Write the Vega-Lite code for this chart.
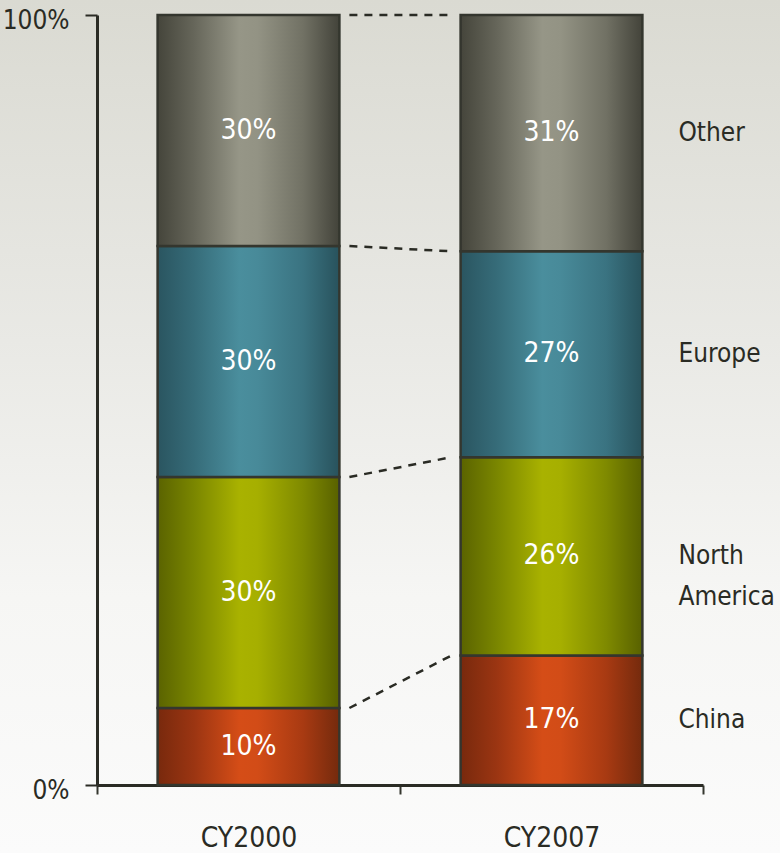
{
  "$schema": "https://vega.github.io/schema/vega-lite/v6.json",
  "width": 780,
  "height": 853,
  "padding": 0,
  "autosize": {"type": "none"},
  "background": "#fafaf9",
  "config": {
    "view": {
      "stroke": null,
      "fill": {"gradient": "linear", "x1": 0, "y1": 0, "x2": 0, "y2": 1,
        "stops": [{"offset": 0, "color": "#dadad2"}, {"offset": 0.4, "color": "#e9e9e5"}, {"offset": 0.7, "color": "#f6f6f4"}, {"offset": 1, "color": "#fbfbfb"}]}
    },
    "font": "Liberation Sans Narrow, DejaVu Sans Condensed, sans-serif"
  },
  "data": {
    "values": [
      {"year": "CY2000", "region": "China", "order": 1, "value": 10},
      {"year": "CY2000", "region": "North America", "order": 2, "value": 30},
      {"year": "CY2000", "region": "Europe", "order": 3, "value": 30},
      {"year": "CY2000", "region": "Other", "order": 4, "value": 30},
      {"year": "CY2007", "region": "China", "order": 1, "value": 17},
      {"year": "CY2007", "region": "North America", "order": 2, "value": 26},
      {"year": "CY2007", "region": "Europe", "order": 3, "value": 27},
      {"year": "CY2007", "region": "Other", "order": 4, "value": 31}
    ]
  },
  "transform": [
    {"stack": "value", "groupby": ["year"], "offset": "normalize", "sort": [{"field": "order", "order": "ascending"}], "as": ["y0", "y1"]},
    {"calculate": "(datum.y0 + datum.y1) / 2", "as": "mid"},
    {"calculate": "datum.value + '%'", "as": "label"}
  ],
  "encoding": {
    "x": {
      "field": "year", "type": "nominal", "title": null,
      "scale": {"type": "band", "domain": ["CY2000", "CY2007"], "range": [97, 703], "paddingInner": 0, "paddingOuter": 0},
      "axis": {"orient": "bottom", "offset": -68, "labelAngle": 0, "tickBand": "extent", "tickSize": 9, "tickWidth": 2, "tickColor": "#34362e", "domainWidth": 3, "domainColor": "#2a2b24", "labelFontSize": 28, "labelColor": "#2a2b24", "labelPadding": 44, "labelBaseline": "middle", "grid": false}
    },
    "y": {
      "field": "y1", "type": "quantitative", "title": null,
      "scale": {"domain": [0, 1], "range": [785, 15], "nice": false, "zero": false},
      "axis": {"orient": "left", "offset": -97, "values": [0, 1], "format": ".0%", "tickSize": 12, "tickWidth": 2, "tickColor": "#2a2b24", "domainWidth": 3, "domainColor": "#2a2b24", "labelFontSize": 26, "labelColor": "#2a2b24", "labelPadding": 16, "labelOffset": 5, "labelBound": false, "labelFlush": false, "grid": false}
    }
  },
  "layer": [
    {
      "transform": [{"filter": "datum.region == 'China'"}],
      "mark": {"type": "bar", "width": {"band": 0.6}, "stroke": "#34362e", "strokeWidth": 2.5,
        "fill": {"gradient": "linear", "x1": 0, "y1": 0, "x2": 1, "y2": 0, "stops": [{"offset": 0, "color": "#78290d"}, {"offset": 0.2, "color": "#9b3512"}, {"offset": 0.45, "color": "#d54d17"}, {"offset": 0.55, "color": "#d24c17"}, {"offset": 0.8, "color": "#a83a12"}, {"offset": 1, "color": "#742a0d"}]}},
      "encoding": {"y2": {"field": "y0"}}
    },
    {
      "transform": [{"filter": "datum.region == 'North America'"}],
      "mark": {"type": "bar", "width": {"band": 0.6}, "stroke": "#34362e", "strokeWidth": 2.5,
        "fill": {"gradient": "linear", "x1": 0, "y1": 0, "x2": 1, "y2": 0, "stops": [{"offset": 0, "color": "#5a6300"}, {"offset": 0.2, "color": "#7a8600"}, {"offset": 0.45, "color": "#a9b200"}, {"offset": 0.55, "color": "#a6af00"}, {"offset": 0.8, "color": "#7f8a00"}, {"offset": 1, "color": "#586100"}]}},
      "encoding": {"y2": {"field": "y0"}}
    },
    {
      "transform": [{"filter": "datum.region == 'Europe'"}],
      "mark": {"type": "bar", "width": {"band": 0.6}, "stroke": "#34362e", "strokeWidth": 2.5,
        "fill": {"gradient": "linear", "x1": 0, "y1": 0, "x2": 1, "y2": 0, "stops": [{"offset": 0, "color": "#2a5560"}, {"offset": 0.2, "color": "#366c79"}, {"offset": 0.45, "color": "#4a8e9d"}, {"offset": 0.55, "color": "#488a99"}, {"offset": 0.8, "color": "#3a7381"}, {"offset": 1, "color": "#28525c"}]}},
      "encoding": {"y2": {"field": "y0"}}
    },
    {
      "transform": [{"filter": "datum.region == 'Other'"}],
      "mark": {"type": "bar", "width": {"band": 0.6}, "stroke": "#34362e", "strokeWidth": 2.5,
        "fill": {"gradient": "linear", "x1": 0, "y1": 0, "x2": 1, "y2": 0, "stops": [{"offset": 0, "color": "#45453b"}, {"offset": 0.2, "color": "#66665a"}, {"offset": 0.45, "color": "#969687"}, {"offset": 0.55, "color": "#939384"}, {"offset": 0.8, "color": "#717164"}, {"offset": 1, "color": "#43433a"}]}},
      "encoding": {"y2": {"field": "y0"}}
    },
    {
      "mark": {"type": "text", "color": "#ffffff", "fontSize": 28, "baseline": "middle", "align": "center"},
      "encoding": {"y": {"field": "mid", "type": "quantitative"}, "text": {"field": "label"}}
    },
    {
      "transform": [{"pivot": "year", "value": "y1", "groupby": ["region"]}],
      "mark": {"type": "rule", "color": "#2a2b24", "strokeWidth": 2.5, "strokeDash": [8, 7], "xOffset": 10, "x2Offset": -9},
      "encoding": {
        "x": {"datum": "CY2000", "bandPosition": 0.8},
        "x2": {"datum": "CY2007", "bandPosition": 0.2},
        "y": {"field": "CY2000", "type": "quantitative"},
        "y2": {"field": "CY2007"}
      }
    },
    {
      "transform": [{"filter": "datum.year == 'CY2007'"}],
      "mark": {"type": "text", "color": "#2a2b24", "fontSize": 26, "letterSpacing": 1, "align": "left", "baseline": "middle", "dx": 36, "lineBreak": " ", "lineHeight": 41},
      "encoding": {
        "x": {"field": "year", "type": "nominal", "bandPosition": 0.8},
        "y": {"field": "mid", "type": "quantitative"},
        "text": {"field": "region"}
      }
    }
  ]
}
